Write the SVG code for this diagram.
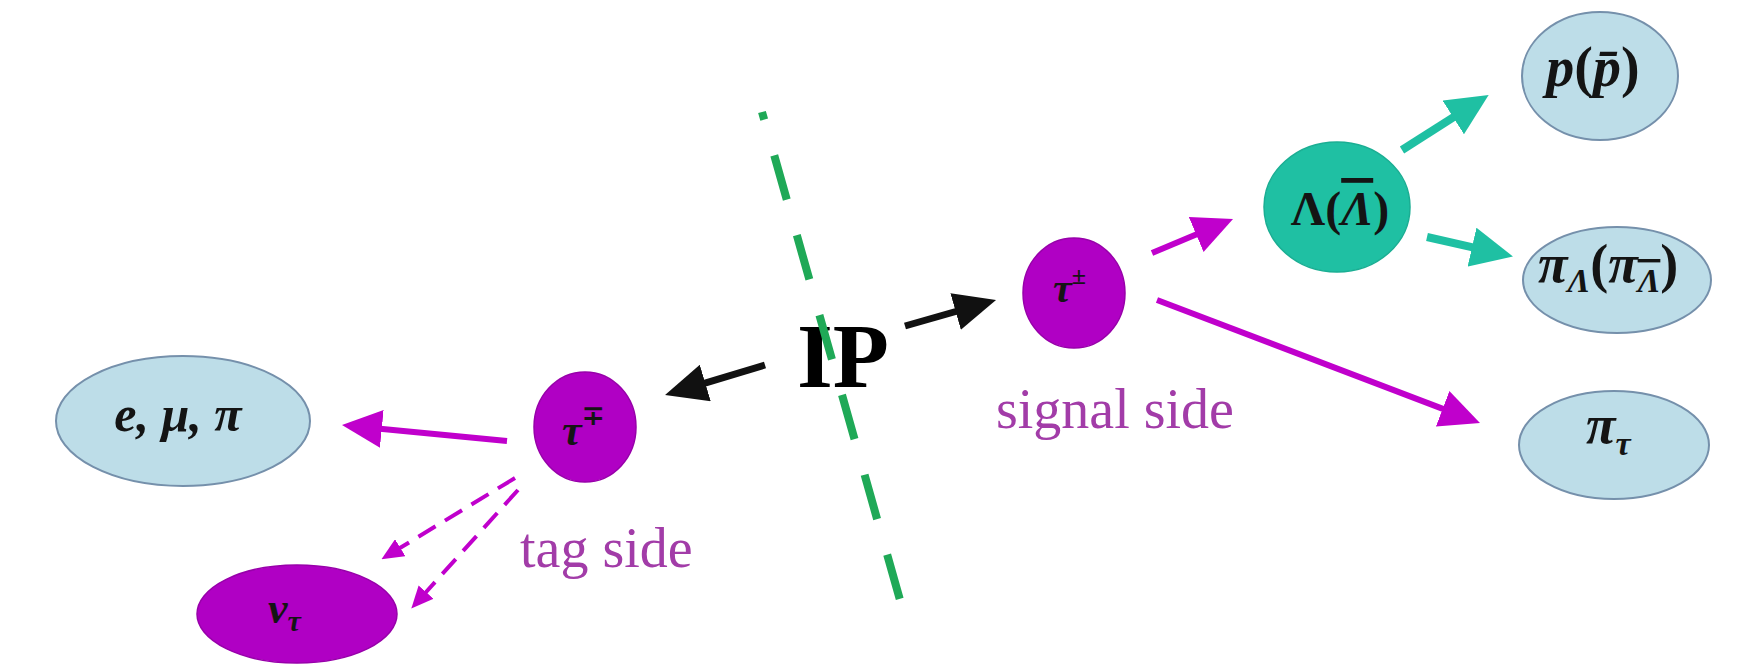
<svg xmlns="http://www.w3.org/2000/svg" width="1742" height="671" viewBox="0 0 1742 671">
  <style>
    .blue { fill: #bddde8; stroke: #7590ab; stroke-width: 2; }
    .mag { fill: #b000c4; stroke: #9800aa; stroke-width: 1.5; }
    .teal { fill: #1fc0a3; stroke: #1aae93; stroke-width: 1.5; }
    .math { font-family: "Liberation Serif", "DejaVu Serif", serif; font-weight: bold; font-style: italic; fill: #141414; }
    .up { font-style: normal; }
    .side { font-family: "Liberation Serif", "DejaVu Serif", serif; font-size: 56px; fill: #a23ca8; }
    .ip { font-family: "Liberation Serif", "DejaVu Serif", serif; font-size: 92px; font-weight: bold; fill: #000; }
    .cb { stroke: #111; stroke-width: 7; fill: none; }
    .cm { stroke: #c000cc; stroke-width: 6; fill: none; }
    .cd { stroke: #c000cc; stroke-width: 4; fill: none; stroke-dasharray: 20 11; }
    .ct { stroke: #1fc0a3; stroke-width: 8; fill: none; }
    .sep { stroke: #1fa957; stroke-width: 8; fill: none; stroke-dasharray: 46 37; stroke-dashoffset: 38; }
  </style>
  <defs>
    <marker id="hb" markerUnits="userSpaceOnUse" markerWidth="42" markerHeight="38" refX="22" refY="19" orient="auto">
      <path d="M0,0 L42,19 L0,38 z" fill="#111"/>
    </marker>
    <marker id="hm" markerUnits="userSpaceOnUse" markerWidth="40" markerHeight="38" refX="20" refY="19" orient="auto">
      <path d="M0,0 L40,19 L0,38 z" fill="#c000cc"/>
    </marker>
    <marker id="hd" markerUnits="userSpaceOnUse" markerWidth="22" markerHeight="20" refX="12" refY="10" orient="auto">
      <path d="M0,0 L22,10 L0,20 z" fill="#c000cc"/>
    </marker>
    <marker id="ht" markerUnits="userSpaceOnUse" markerWidth="42" markerHeight="40" refX="20" refY="20" orient="auto">
      <path d="M0,0 L42,20 L0,40 z" fill="#1fc0a3"/>
    </marker>
  </defs>
  <rect width="1742" height="671" fill="#ffffff"/>

  <g id="node-emupi">
    <ellipse class="blue" cx="183" cy="421" rx="127" ry="65"/>
    <text class="math" x="178" y="431" font-size="50" text-anchor="middle">e, μ, π</text>
  </g>
  <g id="node-tau-tag">
    <ellipse class="mag" cx="585" cy="427" rx="51" ry="55"/>
    <text class="math" x="562" y="445" font-size="44">τ<tspan class="up" font-size="28" dy="-20">∓</tspan></text>
  </g>
  <g id="node-nu">
    <ellipse class="mag" cx="297" cy="614" rx="100" ry="49"/>
    <text class="math" x="268" y="623" font-size="44">ν<tspan font-size="30" dy="8">τ</tspan></text>
  </g>
  <g id="node-tau-sig">
    <ellipse class="mag" cx="1074" cy="293" rx="51" ry="55"/>
    <text class="math" x="1053" y="302" font-size="42">τ<tspan class="up" font-size="26" dy="-18">±</tspan></text>
  </g>
  <g id="node-lambda">
    <ellipse class="teal" cx="1337" cy="207" rx="73" ry="65"/>
    <text class="math" x="1340" y="225" font-size="48" text-anchor="middle"><tspan class="up">Λ(</tspan><tspan text-decoration="overline">Λ</tspan><tspan class="up">)</tspan></text>
  </g>
  <g id="node-p">
    <ellipse class="blue" cx="1600" cy="76" rx="78" ry="64"/>
    <text class="math" x="1593" y="86" font-size="56" text-anchor="middle">p<tspan class="up">(</tspan>p̄<tspan class="up">)</tspan></text>
  </g>
  <g id="node-pilambda">
    <ellipse class="blue" cx="1617" cy="280" rx="94" ry="53"/>
    <text class="math" x="1538" y="282" font-size="54">π<tspan font-size="34" dy="10">Λ</tspan><tspan class="up" dy="-10">(</tspan>π<tspan font-size="34" dy="10" text-decoration="overline">Λ</tspan><tspan class="up" dy="-10">)</tspan></text>
  </g>
  <g id="node-pitau">
    <ellipse class="blue" cx="1614" cy="445" rx="95" ry="54"/>
    <text class="math" x="1586" y="443" font-size="54">π<tspan font-size="34" dy="12">τ</tspan></text>
  </g>

  <g id="label-ip">
    <text class="ip" x="797" y="387">IP</text>
  </g>
  <g id="label-tag">
    <text class="side" x="520" y="567">tag side</text>
  </g>
  <g id="label-signal">
    <text class="side" x="996" y="428">signal side</text>
  </g>

  <g id="separator">
    <line class="sep" x1="762" y1="112" x2="900" y2="600"/>
  </g>

  <g id="connectors">
    <line class="cb" x1="765" y1="365" x2="684.2" y2="389.3" marker-end="url(#hb)"/>
    <line class="cb" x1="905" y1="326" x2="976.8" y2="305.5" marker-end="url(#hb)"/>
    <line class="cm" x1="507" y1="441" x2="361.9" y2="426.9" marker-end="url(#hm)"/>
    <line class="cd" x1="515" y1="478" x2="390" y2="554" marker-end="url(#hd)"/>
    <line class="cd" x1="518" y1="490" x2="418" y2="601" marker-end="url(#hd)"/>
    <line class="cm" x1="1152" y1="253" x2="1214.6" y2="226.7" marker-end="url(#hm)"/>
    <line class="cm" x1="1157" y1="300" x2="1461.3" y2="415.9" marker-end="url(#hm)"/>
    <line class="ct" x1="1402" y1="150" x2="1470.1" y2="106.7" marker-end="url(#ht)"/>
    <line class="ct" x1="1427" y1="237" x2="1491.5" y2="251.6" marker-end="url(#ht)"/>
  </g>
</svg>
